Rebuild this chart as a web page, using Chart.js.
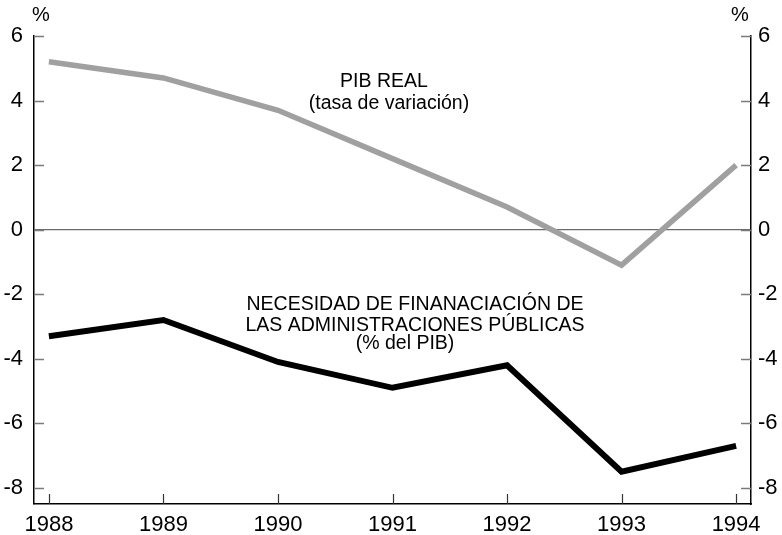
<!DOCTYPE html>
<html>
<head>
<meta charset="utf-8">
<script src="https://cdn.jsdelivr.net/npm/chart.js@4/dist/chart.umd.min.js"></script>
<style>
  html, body { margin: 0; padding: 0; background: #fff; }
  #wrap { width: 782px; height: 535px; position: relative; }
</style>
</head>
<body>
<div id="wrap"><canvas id="c" width="782" height="535"></canvas></div>
<script>
// ---- data ----
const years = [1988, 1989, 1990, 1991, 1992, 1993, 1994];
const pibReal = [5.2, 4.7, 3.7, 2.2, 0.7, -1.1, 2.0];
const necesidad = [-3.3, -2.8, -4.1, -4.9, -4.2, -7.5, -6.7];
const yTickValues = [-8, -6, -4, -2, 0, 2, 4, 6];
const pibLabel = ["PIB REAL", "(tasa de variación)"];
const necLabel = ["NECESIDAD DE FINANACIACIÓN DE", "LAS ADMINISTRACIONES PÚBLICAS", "(% del PIB)"];
const unitLabel = "%";

const FONT = "'Liberation Sans', Arial, Helvetica, sans-serif";

const toPts = (vals) => years.map((y, i) => ({ x: y, y: vals[i] }));

const innerTicks = {
  id: 'innerTicks',
  afterDatasetsDraw(chart) {
    const ctx = chart.ctx;
    const a = chart.chartArea;
    const yL = chart.scales.y, yR = chart.scales.y2, x = chart.scales.x;
    ctx.save();
    ctx.lineWidth = 1.5;
    ctx.strokeStyle = '#7a7a7a';
    yTickValues.forEach(v => {
      const p = Math.round(yL.getPixelForValue(v)) + 0.5;
      ctx.beginPath(); ctx.moveTo(a.left, p); ctx.lineTo(a.left + 10, p); ctx.stroke();
      const q = Math.round(yR.getPixelForValue(v)) + 0.5;
      ctx.beginPath(); ctx.moveTo(a.right, q); ctx.lineTo(a.right - 10, q); ctx.stroke();
    });
    ctx.strokeStyle = '#333';
    ctx.lineWidth = 1.2;
    years.forEach(v => {
      const p = Math.round(x.getPixelForValue(v)) + 0.5;
      ctx.beginPath(); ctx.moveTo(p, a.bottom); ctx.lineTo(p, a.bottom - 10); ctx.stroke();
    });
    ctx.restore();
  }
};

const textLabels = {
  id: 'textLabels',
  afterDraw(chart) {
    const ctx = chart.ctx;
    const a = chart.chartArea;
    ctx.save();
    ctx.fillStyle = '#000';
    ctx.textBaseline = 'middle';
    ctx.textAlign = 'center';
    ctx.font = '19.5px ' + FONT;
    ctx.fillText(pibLabel[0], 384, 82);
    ctx.fillText(pibLabel[1], 389, 104);
    ctx.fillText(necLabel[0], 415, 305);
    ctx.fillText(necLabel[1], 415, 326);
    ctx.fillText(necLabel[2], 405, 344);
    ctx.font = '20px ' + FONT;
    ctx.fillText(unitLabel, a.left + 7, 15);
    ctx.fillText(unitLabel, a.right - 11, 15);
    ctx.restore();
  }
};

new Chart(document.getElementById('c'), {
  type: 'line',
  data: {
    datasets: [
      { data: toPts(pibReal), borderColor: '#a0a0a0', borderWidth: 5.5, pointRadius: 0, tension: 0, fill: false, borderCapStyle: 'butt', borderJoinStyle: 'miter' },
      { data: toPts(necesidad), borderColor: '#000', borderWidth: 6, pointRadius: 0, tension: 0, fill: false, borderCapStyle: 'butt', borderJoinStyle: 'miter' }
    ]
  },
  options: {
    responsive: false,
    animation: false,
    devicePixelRatio: 1,
    layout: { padding: { top: 36, left: 0, right: 0, bottom: 0 } },
    plugins: { legend: { display: false }, tooltip: { enabled: false } },
    scales: {
      x: {
        type: 'linear',
        min: 1987.87, max: 1994.13,
        afterBuildTicks: (s) => { s.ticks = years.map(v => ({ value: v })); },
        afterFit: (s) => { s.height = 31; },
        grid: { display: false, drawTicks: false },
        border: { display: true, color: '#000', width: 1.5 },
        ticks: { padding: 8, color: '#000', font: { family: FONT, size: 22 }, callback: (v) => String(v), maxRotation: 0, autoSkip: false }
      },
      y: {
        position: 'left',
        min: -8.5, max: 6,
        afterBuildTicks: (s) => { s.ticks = yTickValues.map(v => ({ value: v })); },
        afterFit: (s) => { s.width = 34; },
        grid: {
          drawTicks: false,
          drawOnChartArea: true,
          color: (c) => (c.tick && c.tick.value === 0) ? '#6a6a6a' : 'rgba(0,0,0,0)',
          lineWidth: 1.3
        },
        border: { display: true, color: '#000', width: 1.5 },
        ticks: { padding: 11, color: '#000', font: { family: FONT, size: 22 } }
      },
      y2: {
        position: 'right',
        min: -8.5, max: 6,
        afterBuildTicks: (s) => { s.ticks = yTickValues.map(v => ({ value: v })); },
        afterFit: (s) => { s.width = 31; },
        grid: { display: false, drawTicks: false },
        border: { display: true, color: '#000', width: 1.5 },
        ticks: { padding: 7, color: '#000', font: { family: FONT, size: 22 } }
      }
    }
  },
  plugins: [innerTicks, textLabels]
});
</script>
</body>
</html>
